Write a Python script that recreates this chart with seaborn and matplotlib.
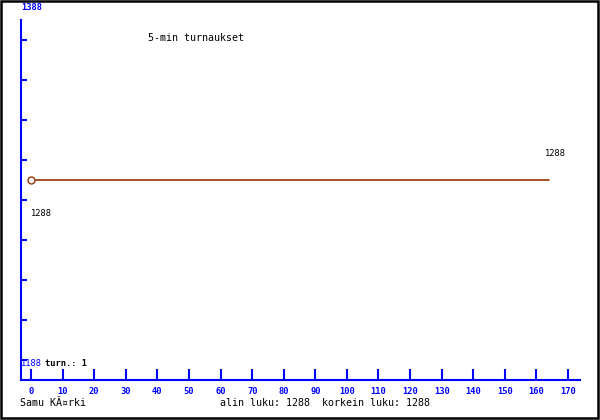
import numpy as np
import pandas as pd
import matplotlib
matplotlib.use("Agg")
import matplotlib.pyplot as plt
import seaborn as sns
from matplotlib.patches import Rectangle

# data
minuutit = [0, 164]
luvut = [1288, 1288]
x_ticks = list(range(0, 171, 10))
y_ala, y_yla = 1188, 1388
otsikko = "5-min turnaukset"
tekija = "Samu KÃ¤rki"
yhteenveto = "alin luku: 1288  korkein luku: 1288"
turn_teksti = "turn.: 1"

df = pd.DataFrame({"min": minuutit, "luku": luvut})

sns.set_style("white")
plt.rcParams["font.family"] = ["DejaVu Sans Mono"]
plt.rcParams["text.color"] = "black"

W, H = 600, 420
fig = plt.figure(figsize=(W / 100, H / 100), dpi=100)

# axes box in pixels: x 21..580, y 20..380 (from top)
ax = fig.add_axes([21 / W, 40 / H, 559 / W, 360 / H])

px_per_unit = 3.159
x0_px = 31
ax.set_xlim((21 - x0_px) / px_per_unit, (580 - x0_px) / px_per_unit)
# 1388 at y=0 px, 1188 at y=360 px
u_per_px = (y_yla - y_ala) / 360
ax.set_ylim(y_ala - 20 * u_per_px, y_yla - 20 * u_per_px)

sns.lineplot(data=df, x="min", y="luku", ax=ax, color="#993300", lw=1.2,
             marker="o", markevery=[0], markersize=5, markerfacecolor="white",
             markeredgecolor="#993300", markeredgewidth=1)

sininen = "#0000ff"
for s in ["top", "right"]:
    ax.spines[s].set_visible(False)
for s in ["left", "bottom"]:
    ax.spines[s].set_color(sininen)
    ax.spines[s].set_linewidth(1.5)

ax.set_xticks(x_ticks)
ax.set_xticklabels([str(t) for t in x_ticks], color=sininen, fontsize=6.3,
                   fontweight="bold")
ax.tick_params(axis="x", bottom=True, direction="in", length=8, width=1.5,
               color=sininen, pad=5)
y_ticks = [y_ala + k * (y_yla - y_ala) / 9 for k in range(9)]
ax.set_yticks(y_ticks)
ax.set_yticklabels([])
ax.tick_params(axis="y", left=True, direction="in", length=4, width=1.5,
               color=sininen)
ax.set_xlabel("")
ax.set_ylabel("")
ax.grid(False)

# y range labels
ax.text(0.0, 1.0 + 12 / 360, str(y_yla), transform=ax.transAxes, color=sininen,
        fontsize=6.3, fontweight="bold", va="center", ha="left")
ax.text(0.0, 16 / 360, str(y_ala), transform=ax.transAxes, color=sininen,
        fontsize=6.3, va="center", ha="left")
ax.text(24 / 559, 16 / 360, turn_teksti, transform=ax.transAxes, color="black",
        fontsize=6.3, fontweight="bold", va="center", ha="left")

# value labels at start and end
ax.annotate(str(luvut[0]), (minuutit[0], luvut[0]), xytext=(0, -34),
            textcoords="offset pixels", fontsize=6.3, ha="left", va="center",
            color="black")
ax.annotate(str(luvut[-1]), (minuutit[-1], luvut[-1]), xytext=(6, 26),
            textcoords="offset pixels", fontsize=6.3, ha="center", va="center",
            color="black")

fig.text(148 / W, 1 - 38 / H, otsikko, fontsize=7.2, ha="left", va="center")
fig.text(20 / W, 1 - 403 / H, tekija, fontsize=7.2, ha="left", va="center")
fig.text(220 / W, 1 - 403 / H, yhteenveto, fontsize=7.2, ha="left", va="center")

fig.add_artist(Rectangle((0.5 / W, 2 / H), 597 / W, 417.5 / H,
                         transform=fig.transFigure, fill=False,
                         edgecolor="black", lw=1.8))

fig.savefig("out.png", dpi=100)
